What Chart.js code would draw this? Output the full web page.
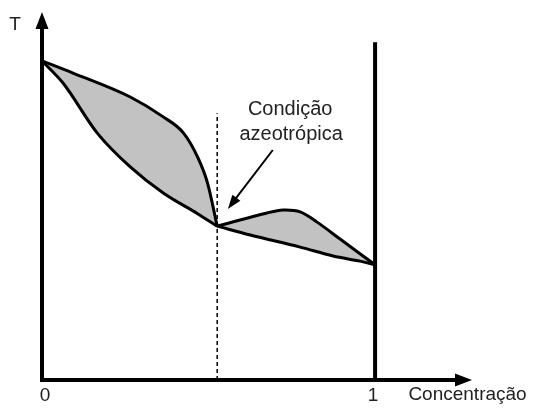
<!DOCTYPE html>
<html>
<head>
<meta charset="utf-8">
<script src="https://cdn.jsdelivr.net/npm/chart.js@4.4.0/dist/chart.umd.min.js"></script>
<style>
  html, body { margin: 0; padding: 0; background: #fff; }
  #wrap { width: 542px; height: 408px; }
</style>
</head>
<body>
<div id="wrap"><canvas id="grafico"></canvas></div>
<script>
// curvas do diagrama (x = concentração, T = temperatura em unidades arbitrárias)
const orvalhoEsqX = [0, 0.093, 0.265, 0.364, 0.425, 0.467, 0.497, 0.526];
const orvalhoEsqT = [86.7, 83.4, 76.9, 71.5, 67.1, 60.6, 53.5, 41.8];
const bolhaEsqX = [0, 0.063, 0.166, 0.265, 0.364, 0.467, 0.526];
const bolhaEsqT = [86.7, 80.7, 67.1, 57.9, 50.8, 45.2, 41.8];
const orvalhoDirX = [0.526, 0.676, 0.724, 0.775, 0.826, 0.895, 1];
const orvalhoDirT = [41.8, 45.4, 46.2, 45.7, 42.9, 38.3, 31.3];
const bolhaDirX = [0.526, 0.625, 0.775, 0.874, 0.955, 1];
const bolhaDirT = [41.8, 39.4, 36.1, 33.7, 32.3, 31.3];

const xAzeotropo = 0.526;
const topoAzeotropo = 72.5;
const topoLinhaUm = 91.8;
const tickValores = [0, 1];
const tickTextos = ['0', '1'];
const rotuloX = 'Concentração';
const rotuloY = 'T';
const anotacao = ['Condição', 'azeotrópica'];

const pts = (xs, ys) => xs.map((x, i) => ({ x: x, y: ys[i] }));

const FONTE = '"Liberation Sans", Arial, sans-serif';

function seta(ctx, x1, y1, x2, y2, tam, larg) {
    const a = Math.atan2(y2 - y1, x2 - x1);
    ctx.beginPath();
    ctx.moveTo(x1, y1);
    ctx.lineTo(x2 - Math.cos(a) * tam * 0.8, y2 - Math.sin(a) * tam * 0.8);
    ctx.stroke();
    ctx.beginPath();
    ctx.moveTo(x2, y2);
    ctx.lineTo(x2 - tam * Math.cos(a) + larg * Math.sin(a), y2 - tam * Math.sin(a) - larg * Math.cos(a));
    ctx.lineTo(x2 - tam * Math.cos(a) - larg * Math.sin(a), y2 - tam * Math.sin(a) + larg * Math.cos(a));
    ctx.closePath();
    ctx.fill();
}

const eixosPlugin = {
    id: 'eixos',
    afterDraw(chart) {
        const ctx = chart.ctx;
        const xs = chart.scales.x, ys = chart.scales.y;
        const x0 = xs.getPixelForValue(0);
        const y0 = ys.getPixelForValue(0);
        ctx.save();
        ctx.strokeStyle = '#000';
        ctx.fillStyle = '#000';
        ctx.lineWidth = 4;
        ctx.lineCap = 'butt';
        // eixo y com seta
        seta(ctx, x0, y0 + 2, x0, chart.chartArea.top, 17, 6.5);
        // eixo x com seta
        seta(ctx, x0 - 2, y0, chart.chartArea.right, y0, 17, 6.5);

        ctx.fillStyle = '#222';
        ctx.font = '19px ' + FONTE;
        ctx.textAlign = 'center';
        ctx.textBaseline = 'middle';
        tickValores.forEach((v, i) => {
            ctx.fillText(tickTextos[i], xs.getPixelForValue(v) + (v === 0 ? 3 : -2), y0 + 16);
        });
        ctx.textAlign = 'left';
        ctx.fillText(rotuloX, xs.getPixelForValue(1.1), y0 + 15);
        ctx.textAlign = 'center';
        ctx.fillText(rotuloY, 15, 25);

        // anotação e seta
        ctx.font = '20px ' + FONTE;
        ctx.fillText(anotacao[0], xs.getPixelForValue(0.745), ys.getPixelForValue(73.4));
        ctx.fillText(anotacao[1], xs.getPixelForValue(0.748), ys.getPixelForValue(66.6));
        ctx.fillStyle = '#000';
        ctx.strokeStyle = '#000';
        ctx.lineWidth = 2;
        seta(ctx, xs.getPixelForValue(0.693), ys.getPixelForValue(62.5),
            xs.getPixelForValue(0.558), ys.getPixelForValue(46.5), 14, 5);
        ctx.restore();
    }
};

const linha = (data, extra) => Object.assign({
    data: data,
    showLine: true,
    borderColor: '#000',
    borderWidth: 3,
    pointRadius: 0,
    tension: 0.35,
    fill: false
}, extra || {});

const ctx = document.getElementById('grafico').getContext('2d');
const chart = new Chart(ctx, {
    type: 'scatter',
    data: {
        datasets: [
            linha(pts(orvalhoEsqX, orvalhoEsqT), { fill: '+1', backgroundColor: '#c2c2c2', cubicInterpolationMode: 'monotone' }),
            linha(pts(bolhaEsqX, bolhaEsqT), { cubicInterpolationMode: 'monotone' }),
            linha(pts(orvalhoDirX, orvalhoDirT), { fill: '+1', backgroundColor: '#c2c2c2' }),
            linha(pts(bolhaDirX, bolhaDirT)),
            linha([{ x: 1, y: 0 }, { x: 1, y: topoLinhaUm }], { borderWidth: 4, tension: 0 }),
            linha([{ x: xAzeotropo, y: 0 }, { x: xAzeotropo, y: topoAzeotropo }],
                { borderWidth: 1.5, borderDash: [4, 3], tension: 0 })
        ]
    },
    options: {
        responsive: true,
        maintainAspectRatio: false,
        animation: false,
        layout: { padding: { left: 42, right: 70, top: 12, bottom: 28 } },
        scales: {
            x: { type: 'linear', min: 0, max: 1.291, display: false },
            y: { type: 'linear', min: 0, max: 100, display: false }
        },
        plugins: {
            legend: { display: false },
            tooltip: { enabled: false },
            filler: { drawTime: 'beforeDatasetsDraw' }
        }
    },
    plugins: [eixosPlugin]
});
</script>
</body>
</html>
